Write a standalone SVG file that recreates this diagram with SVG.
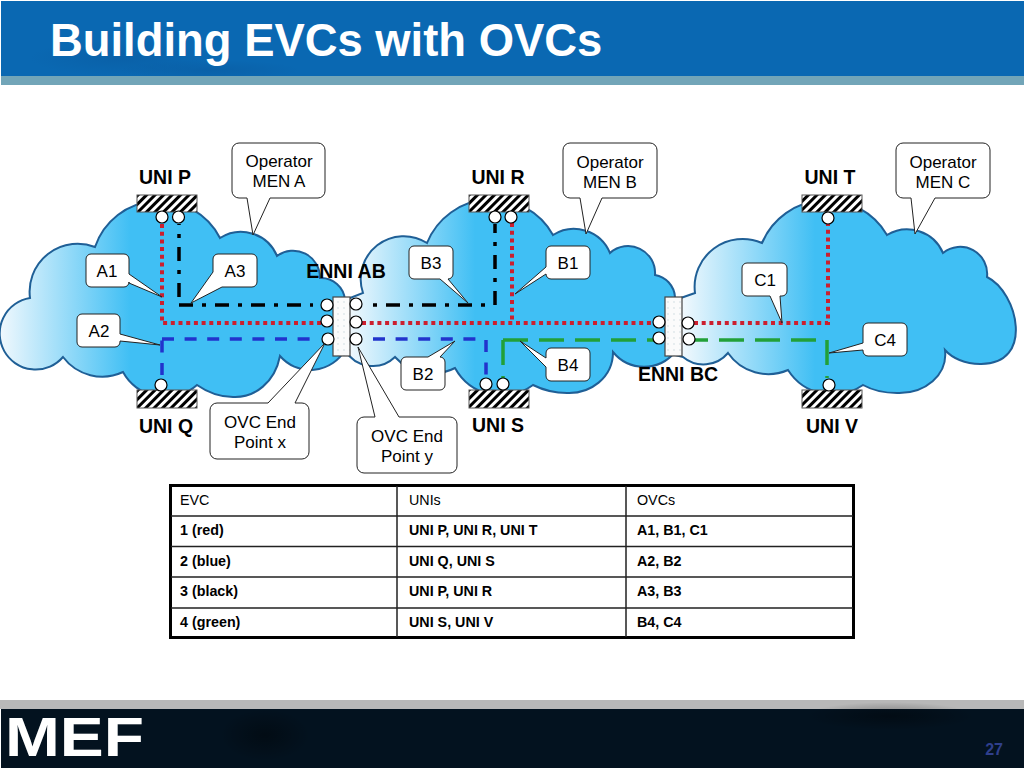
<svg xmlns="http://www.w3.org/2000/svg" width="1024" height="768" viewBox="0 0 1024 768">
<style>
text{font-family:"Liberation Sans",Arial,sans-serif;fill:#000}
.uni{font-size:19.500px;font-weight:bold;text-anchor:middle}
.lab{font-size:17px;text-anchor:middle}
.call{fill:#fff;stroke:#222;stroke-width:1;stroke-linejoin:round}
.cloud{stroke:#1f5f96;stroke-width:2;stroke-linejoin:miter}
.hatch{fill:url(#h);stroke:#555;stroke-width:1}
.ep{fill:#fff;stroke:#000;stroke-width:1.2}
.enni{fill:url(#dots);stroke:#444;stroke-width:1.2}
.conn{fill:none}
.red{stroke:#cc1f2e;stroke-width:4;stroke-dasharray:4 3.7}
.blue{stroke:#2233cc;stroke-width:3.500;stroke-dasharray:12 10.600}
.green{stroke:#22a038;stroke-width:3.500;stroke-dasharray:25 11}
.black{stroke:#000;stroke-width:3.500;stroke-dasharray:14 9 4 9}
.th{font-size:14.300px}
.td{font-size:14.300px;font-weight:bold}
</style>
<defs>
<linearGradient id="g1" gradientUnits="userSpaceOnUse" x1="0" y1="0" x2="130" y2="0"><stop offset="0" stop-color="#f0f8fd"/><stop offset="1" stop-color="#40bff4"/></linearGradient>
<linearGradient id="g2" gradientUnits="userSpaceOnUse" x1="350" y1="0" x2="475" y2="0"><stop offset="0" stop-color="#f0f8fd"/><stop offset="1" stop-color="#40bff4"/></linearGradient>
<linearGradient id="g3" gradientUnits="userSpaceOnUse" x1="683" y1="0" x2="815" y2="0"><stop offset="0" stop-color="#f0f8fd"/><stop offset="1" stop-color="#40bff4"/></linearGradient>
<radialGradient id="shH"><stop offset="0" stop-color="#0a4f90" stop-opacity=".3"/><stop offset="1" stop-color="#0a4f90" stop-opacity="0"/></radialGradient>
<radialGradient id="shF"><stop offset="0" stop-color="#000" stop-opacity=".35"/><stop offset="1" stop-color="#000" stop-opacity="0"/></radialGradient>
<pattern id="h" width="6" height="6" patternUnits="userSpaceOnUse" patternTransform="rotate(45)"><rect width="6" height="6" fill="#fff"/><rect width="3" height="6" fill="#000"/></pattern>
<pattern id="dots" width="6" height="6" patternUnits="userSpaceOnUse"><rect width="6" height="6" fill="#fbfbfb"/><circle cx="2" cy="2" r=".7" fill="#c4d4dc"/></pattern>
</defs>
<g id="header">
<rect x="1" y="1" width="1023" height="75" fill="#0a68b2"/>
<ellipse cx="120" cy="58" rx="90" ry="18" fill="url(#shH)"/>
<ellipse cx="210" cy="70" rx="90" ry="10" fill="url(#shH)"/>
<rect x="1" y="76" width="1023" height="9" fill="#72a5b8"/>
<text x="50" y="56" style="font-size:45.400px;font-weight:bold;fill:#fff">Building EVCs with OVCs</text>
</g>
<g id="footer">
<rect x="0" y="700" width="1024" height="9" fill="#b8b8b8"/>
<rect x="1" y="709" width="1023" height="59" fill="#03121f"/>
<ellipse cx="265" cy="735" rx="45" ry="26" fill="url(#shF)"/>
<ellipse cx="890" cy="716" rx="85" ry="14" fill="url(#shF)"/>
<text x="5" y="756" textLength="139" lengthAdjust="spacingAndGlyphs" style="font-size:56px;font-weight:bold;fill:#fff">MEF</text>
<text x="1003" y="755" text-anchor="end" style="font-size:16px;font-weight:bold;fill:#2f3f8c">27</text>
</g>
<g id="cloud-a"><path class="cloud" fill="url(#g1)" d="M30 298A48 48 0 0 1 95 247A68 68 0 0 1 220 238A39 39 0 0 1 277 256A27 27 0 0 1 320 278A24 24 0 0 1 345 300V350A40 40 0 0 1 280 356C275 382 255 398 233 397C220 397 207 392 197 385A48 48 0 0 1 123 372A49 49 0 0 1 63 357A36 36 0 1 1 30 298Z"/></g>
<g id="cloud-b"><path class="cloud" fill="url(#g2)" d="M363 293A43 43 0 0 1 427 243A70 70 0 0 1 553 235A39 39 0 0 1 610 253A27 27 0 0 1 655 275A24 24 0 0 1 675 297V352A40 40 0 0 1 613 352C613 378 590 394 567 393C555 393 543 390 533 385A53 53 0 0 1 455 368A50 50 0 0 1 395 357A32 32 0 0 1 345 350V300Z"/></g>
<g id="cloud-c"><path class="cloud" fill="url(#g3)" d="M695 293A48 48 0 0 1 762 243A70 70 0 0 1 887 235A39 39 0 0 1 943 253A27 27 0 0 1 987 277C1018 292 1035 365 980 364C965 364 952 358 945 350C948 375 925 394 897 393C885 393 872 390 863 385A53 53 0 0 1 788 370A49 49 0 0 1 728 353A32 32 0 0 1 683 357L675 355V300Z"/></g>
<g id="connectors">
<path class="conn red" d="M162 224V323H321M362 323H653M512 223V323M694 323H828V224"/>
<path class="conn blue" d="M162 375V339M162 339H313M373 339H477M486 340V378"/>
<path class="conn green" d="M503 340V378M503 340H656M827 340V378"/>
<path class="conn green" style="stroke-dashoffset:12" d="M695 340H816"/>
<path class="conn black" style="stroke-dashoffset:13" d="M179 224V297"/>
<path class="conn black" d="M179 305H313M495 305V224"/>
<path class="conn black" style="stroke-dashoffset:23" d="M373 305H488"/>
</g>
<g id="uni-p"><rect class="hatch" x="137" y="195" width="60" height="17"/><circle class="ep" cx="162" cy="217" r="6"/><circle class="ep" cx="178.500" cy="217" r="6"/><text class="uni" x="165" y="184">UNI P</text></g>
<g id="uni-q"><rect class="hatch" x="137" y="390" width="60" height="18"/><circle class="ep" cx="161" cy="385" r="6"/><text class="uni" x="166" y="433">UNI Q</text></g>
<g id="uni-r"><rect class="hatch" x="469" y="195" width="60" height="17"/><circle class="ep" cx="495" cy="217" r="6"/><circle class="ep" cx="511" cy="217" r="6"/><text class="uni" x="498" y="184">UNI R</text></g>
<g id="uni-s"><rect class="hatch" x="469" y="390" width="60" height="18"/><circle class="ep" cx="486" cy="384" r="6"/><circle class="ep" cx="503" cy="384" r="6"/><text class="uni" x="498" y="432">UNI S</text></g>
<g id="uni-t"><rect class="hatch" x="802" y="195" width="60" height="17"/><circle class="ep" cx="828" cy="218" r="6"/><text class="uni" x="830" y="184">UNI T</text></g>
<g id="uni-v"><rect class="hatch" x="802" y="390" width="60" height="18"/><circle class="ep" cx="829" cy="385" r="6"/><text class="uni" x="832" y="433">UNI V</text></g>
<g id="enni-ab"><rect class="enni" x="333" y="297" width="17" height="59"/><circle class="ep" cx="327" cy="305" r="6"/><circle class="ep" cx="327" cy="321" r="6"/><circle class="ep" cx="328" cy="339" r="6"/><circle class="ep" cx="356" cy="304" r="6"/><circle class="ep" cx="356" cy="322" r="6"/><circle class="ep" cx="356" cy="339" r="6"/><text class="uni" x="346" y="278">ENNI AB</text></g>
<g id="enni-bc"><rect class="enni" x="665" y="297" width="17" height="59"/><circle class="ep" cx="659" cy="322" r="6"/><circle class="ep" cx="659" cy="338" r="6"/><circle class="ep" cx="688" cy="323" r="6"/><circle class="ep" cx="689" cy="339" r="6"/><text class="uni" x="678" y="381">ENNI BC</text></g>
<g id="men-a"><path class="call" d="M239 143H318A7 7 0 0 1 325 150V191A7 7 0 0 1 318 198H270L253 235L247 198H239A7 7 0 0 1 232 191V150A7 7 0 0 1 239 143Z"/><text class="lab" x="279" y="167">Operator</text><text class="lab" x="279" y="187">MEN A</text></g>
<g id="men-b"><path class="call" d="M570 143H650A7 7 0 0 1 657 150V191A7 7 0 0 1 650 198H602L586 234L580 198H570A7 7 0 0 1 563 191V150A7 7 0 0 1 570 143Z"/><text class="lab" x="610" y="168">Operator</text><text class="lab" x="610" y="188">MEN B</text></g>
<g id="men-c"><path class="call" d="M903 143H983A7 7 0 0 1 990 150V191A7 7 0 0 1 983 198H935L915 234L911 198H903A7 7 0 0 1 896 191V150A7 7 0 0 1 903 143Z"/><text class="lab" x="943" y="168">Operator</text><text class="lab" x="943" y="188">MEN C</text></g>
<g id="a1"><path class="call" d="M91 254H124A5 5 0 0 1 129 259V274L162 297L129 283V282A5 5 0 0 1 124 287H91A5 5 0 0 1 86 282V259A5 5 0 0 1 91 254Z"/><text class="lab" x="107" y="277">A1</text></g>
<g id="a3"><path class="call" d="M218 254H252A5 5 0 0 1 257 259V282A5 5 0 0 1 252 287H222L191 303L213 272V259A5 5 0 0 1 218 254Z"/><text class="lab" x="235" y="277">A3</text></g>
<g id="a2"><path class="call" d="M82 314H115A5 5 0 0 1 120 319V334L160 345L120 341V342A5 5 0 0 1 115 347H82A5 5 0 0 1 77 342V319A5 5 0 0 1 82 314Z"/><text class="lab" x="99" y="337">A2</text></g>
<g id="b3"><path class="call" d="M414 246H448A5 5 0 0 1 453 251V274A5 5 0 0 1 448 279L468 303L440 279H414A5 5 0 0 1 409 274V251A5 5 0 0 1 414 246Z"/><text class="lab" x="431" y="269">B3</text></g>
<g id="b1"><path class="call" d="M551 246H585A5 5 0 0 1 590 251V274A5 5 0 0 1 585 279H551A5 5 0 0 1 546 274L515 294L546 267V251A5 5 0 0 1 551 246Z"/><text class="lab" x="568" y="269">B1</text></g>
<g id="b2"><path class="call" d="M406 357H428L455 341L440 357A5 5 0 0 1 445 362V385A5 5 0 0 1 440 390H406A5 5 0 0 1 401 385V362A5 5 0 0 1 406 357Z"/><text class="lab" x="423" y="380">B2</text></g>
<g id="b4"><path class="call" d="M551 348H585A5 5 0 0 1 590 353V376A5 5 0 0 1 585 381H551A5 5 0 0 1 546 376V367L520 341L546 358V353A5 5 0 0 1 551 348Z"/><text class="lab" x="568" y="371">B4</text></g>
<g id="c1"><path class="call" d="M747 263H782A5 5 0 0 1 787 268V291A5 5 0 0 1 782 296H780L782 323L770 296H747A5 5 0 0 1 742 291V268A5 5 0 0 1 747 263Z"/><text class="lab" x="765" y="286">C1</text></g>
<g id="c4"><path class="call" d="M868 323H902A5 5 0 0 1 907 328V351A5 5 0 0 1 902 356H868A5 5 0 0 1 863 351V350L829 353L863 343V328A5 5 0 0 1 868 323Z"/><text class="lab" x="885" y="346">C4</text></g>
<g id="ovc-x"><path class="call" d="M217 403H268L325 343L295 403H302A7 7 0 0 1 309 410V452A7 7 0 0 1 302 459H217A7 7 0 0 1 210 452V410A7 7 0 0 1 217 403Z"/><text class="lab" x="260" y="428">OVC End</text><text class="lab" x="260" y="448">Point x</text></g>
<g id="ovc-y"><path class="call" d="M364 417H375L358 347L399 417H450A7 7 0 0 1 457 424V466A7 7 0 0 1 450 473H364A7 7 0 0 1 357 466V424A7 7 0 0 1 364 417Z"/><text class="lab" x="407" y="442">OVC End</text><text class="lab" x="407" y="462">Point y</text></g>
<g id="table">
<rect x="170.500" y="485.500" width="683" height="152" fill="#fff" stroke="#000" stroke-width="3"/>
<path d="M397 486V637M626 486V637M171 516H853M171 546.500H853M171 577H853M171 608H853" stroke="#222" stroke-width="1.500" fill="none"/>
<text class="th" x="180" y="505">EVC</text><text class="th" x="409" y="505">UNIs</text><text class="th" x="637" y="505">OVCs</text>
<text class="td" x="180" y="535">1 (red)</text><text class="td" x="409" y="535">UNI P, UNI R, UNI T</text><text class="td" x="637" y="535">A1, B1, C1</text>
<text class="td" x="180" y="566">2 (blue)</text><text class="td" x="409" y="566">UNI Q, UNI S</text><text class="td" x="637" y="566">A2, B2</text>
<text class="td" x="180" y="596">3 (black)</text><text class="td" x="409" y="596">UNI P, UNI R</text><text class="td" x="637" y="596">A3, B3</text>
<text class="td" x="180" y="627">4 (green)</text><text class="td" x="409" y="627">UNI S, UNI V</text><text class="td" x="637" y="627">B4, C4</text>
</g>
</svg>
